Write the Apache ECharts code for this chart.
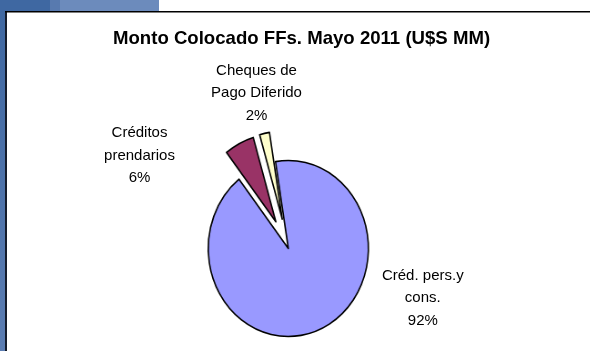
<!DOCTYPE html>
<html>
<head>
<meta charset="utf-8">
<script src="https://cdn.jsdelivr.net/npm/echarts/dist/echarts.min.js"></script>
<style>
  html, body { margin: 0; padding: 0; background: #ffffff; overflow: hidden; }
  #frame { position: relative; width: 590px; height: 351px; overflow: hidden; }
  #base { position: absolute; left: 0; top: 0; width: 590px; height: 351px; }
  /* the pie is drawn on its own layer, squeezed horizontally into an ellipse */
  #pie { position: absolute; left: 0; top: 0; width: 648px; height: 351px;
         transform: scaleX(0.91); transform-origin: 0 0; }
</style>
</head>
<body>
<div id="frame"><div id="base"></div><div id="pie"></div></div>
<script>
// Chart content
const titleText = 'Monto Colocado FFs. Mayo 2011 (U$S MM)';
const categories = ['Créditos\nprendarios', 'Cheques de\nPago Diferido', 'Créd. pers.y\ncons.'];
const shares = [6, 2, 92];
const exploded = [true, true, false];

// Look and layout
const FONT = '"Liberation Sans", Arial, Helvetica, sans-serif';
const sliceColors = ['#993366', '#FFFFCC', '#9999FF'];
const SQUEEZE = 0.91;
const pieCenter = [288.3, 248.5];
const pieRadius = 88;
const startAngle = 128;
const labelAnchors = [[139.5, 155.5], [256.5, 93.3], [422.8, 298.3]];

const pieData = categories.map((name, i) => ({
  name: name,
  value: shares[i],
  selected: exploded[i],
  itemStyle: { color: sliceColors[i] }
}));

// Background layer: frame decoration, title and slice labels
const base = echarts.init(document.getElementById('base'), null, { renderer: 'canvas' });
base.setOption({
  animation: false,
  backgroundColor: '#ffffff',
  title: {
    text: titleText,
    left: 108,
    top: 24,
    textStyle: { fontFamily: FONT, fontSize: 18.6, fontWeight: 'bold', color: '#000000' }
  },
  graphic: [
    { type: 'rect', shape: { x: 0, y: 0, width: 6, height: 351 },
      style: { fill: new echarts.graphic.LinearGradient(0, 0, 0, 1, [
        { offset: 0, color: '#3E67A1' }, { offset: 1, color: '#5B7DB2' }]) } },
    { type: 'rect', shape: { x: 0, y: 0, width: 50, height: 11 }, style: { fill: '#3F68A2' } },
    { type: 'rect', shape: { x: 50, y: 0, width: 10, height: 11 }, style: { fill: '#587AAF' } },
    { type: 'rect', shape: { x: 60, y: 0, width: 99, height: 11 }, style: { fill: '#6C8BBC' } },
    { type: 'rect', shape: { x: 5, y: 11, width: 2, height: 340 }, style: { fill: '#141c2c' } },
    { type: 'rect', shape: { x: 5, y: 11, width: 585, height: 1.5 }, style: { fill: '#000000' } }
  ],
  series: [{
    type: 'pie',
    silent: true,
    center: pieCenter,
    radius: pieRadius,
    startAngle: startAngle,
    percentPrecision: 0,
    data: categories.map((name, i) => ({ name: name, value: shares[i] })),
    itemStyle: { color: 'rgba(0,0,0,0)', borderWidth: 0 },
    emphasis: { disabled: true },
    labelLine: { show: false },
    label: {
      show: true,
      position: 'outside',
      formatter: '{b}\n{d}%',
      fontFamily: FONT,
      fontSize: 15,
      lineHeight: 22.5,
      color: '#000000',
      align: 'center'
    },
    labelLayout: function (params) {
      const p = labelAnchors[params.dataIndex];
      return { x: p[0], y: p[1], align: 'center', verticalAlign: 'middle' };
    }
  }]
});

// Pie layer
const pie = echarts.init(document.getElementById('pie'), null, { renderer: 'canvas' });
pie.setOption({
  animation: false,
  series: [{
    type: 'pie',
    center: [pieCenter[0] / SQUEEZE, pieCenter[1]],
    radius: pieRadius,
    startAngle: startAngle,
    selectedMode: 'multiple',
    selectedOffset: 30,
    data: pieData,
    label: { show: false },
    labelLine: { show: false },
    itemStyle: { borderColor: '#000000', borderWidth: 1.6 },
    emphasis: { disabled: true }
  }]
});
</script>
</body>
</html>
